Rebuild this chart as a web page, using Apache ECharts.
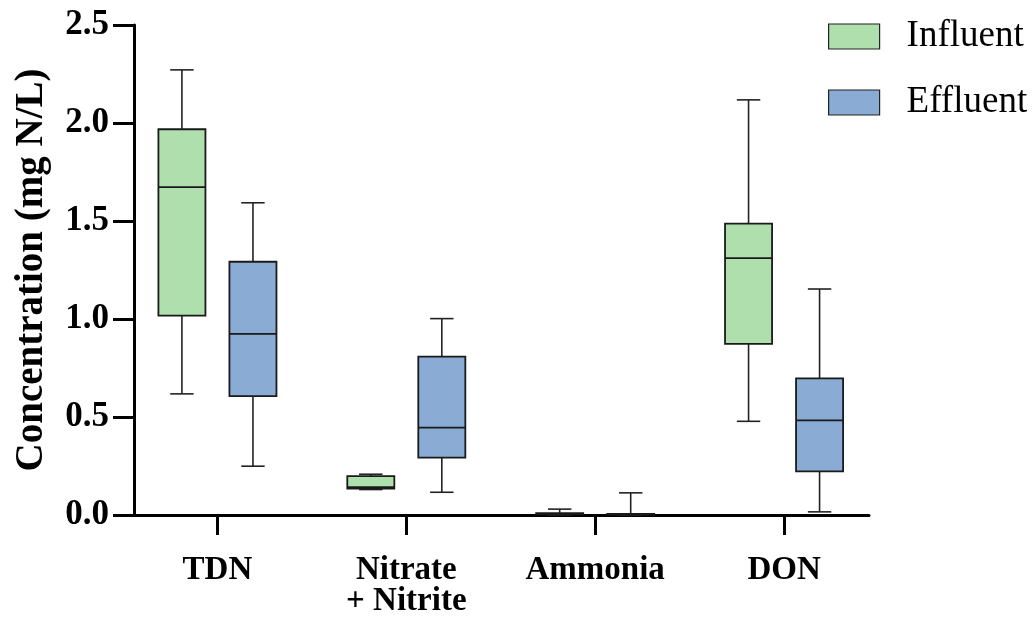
<!DOCTYPE html>
<html>
<head>
<meta charset="utf-8">
<script src="https://cdn.jsdelivr.net/npm/echarts@6/dist/echarts.min.js"></script>
<style>
html,body{margin:0;padding:0;background:#fff;}
#chart{width:1036px;height:625px;}
</style>
</head>
<body>
<div id="chart"></div>
<script>
// ---- data ----
const categories = ['TDN', 'Nitrate\n+ Nitrite', 'Ammonia', 'DON'];
const seriesNames = ['Influent', 'Effluent'];
// [min, Q1, median, Q3, max]
const influent = [
  [0.618, 1.017, 1.673, 1.968, 2.271],
  [0.130, 0.135, 0.142, 0.198, 0.208],
  [0.000, 0.003, 0.006, 0.009, 0.030],
  [0.478, 0.873, 1.311, 1.487, 2.118]
];
const effluent = [
  [0.249, 0.606, 0.924, 1.292, 1.593],
  [0.116, 0.293, 0.446, 0.808, 1.002],
  [0.000, 0.002, 0.004, 0.006, 0.113],
  [0.016, 0.223, 0.483, 0.697, 1.153]
];
const yTicks = [0, 0.5, 1.0, 1.5, 2.0, 2.5];

const colors = ['#aedfad', '#8aabd3'];
const FONT = "'Liberation Serif', 'Times New Roman', serif";

function makeRender(sign) {
  return function (params, api) {
    const cat = api.value(0);
    const band = api.size([1, 0])[0];
    const off = sign * band * 0.188;
    const bw = band * 0.249;
    const cw = band * 0.124;
    const cx = api.coord([cat, 0])[0] + off;
    const y = (v) => api.coord([cat, v])[1];
    const yMin = y(api.value(1)), yQ1 = y(api.value(2)), yMed = y(api.value(3)),
          yQ3 = y(api.value(4)), yMax = y(api.value(5));
    const fill = colors[sign < 0 ? 0 : 1];
    const lineStyle = { stroke: '#222', lineWidth: 1.6 };
    return {
      type: 'group',
      children: [
        { type: 'line', shape: { x1: cx, y1: yQ3, x2: cx, y2: yMax }, style: lineStyle },
        { type: 'line', shape: { x1: cx, y1: yQ1, x2: cx, y2: yMin }, style: lineStyle },
        { type: 'line', shape: { x1: cx - cw / 2, y1: yMax, x2: cx + cw / 2, y2: yMax }, style: lineStyle },
        { type: 'line', shape: { x1: cx - cw / 2, y1: yMin, x2: cx + cw / 2, y2: yMin }, style: lineStyle },
        { type: 'rect', shape: { x: cx - bw / 2, y: yQ3, width: bw, height: yQ1 - yQ3 },
          style: { fill: fill, stroke: '#1a1a1a', lineWidth: 1.8 } },
        { type: 'line', shape: { x1: cx - bw / 2, y1: yMed, x2: cx + bw / 2, y2: yMed },
          style: { stroke: '#1a1a1a', lineWidth: 1.8 } }
      ]
    };
  };
}

const chart = echarts.init(document.getElementById('chart'), null, { renderer: 'canvas' });

const option = {
  backgroundColor: '#fff',
  animation: false,
  textStyle: { fontFamily: FONT },
  legend: {
    orient: 'vertical',
    left: 823,
    top: 13,
    itemWidth: 51,
    itemHeight: 25,
    itemGap: 29,
    textStyle: { fontFamily: FONT, fontSize: 37, color: '#000', padding: [0, 0, 0, 22] },
    data: seriesNames.map((n, i) => ({
      name: n, icon: 'rect',
      itemStyle: { color: colors[i], borderColor: '#222', borderWidth: 1.2 }
    }))
  },
  grid: [
    { left: 123, right: 157.5, top: 25, bottom: 110 },
    { left: 134, right: 167, top: 25, bottom: 110 }
  ],
  xAxis: [
    {
      gridIndex: 0, type: 'category', data: categories,
      axisLine: { show: false },
      axisTick: { show: true, alignWithLabel: true, length: 20, lineStyle: { color: '#000', width: 3 } },
      axisLabel: { fontFamily: FONT, fontSize: 33, fontWeight: 'bold', color: '#000', margin: 40, lineHeight: 31 },
      splitLine: { show: false }
    },
    {
      gridIndex: 1, type: 'value', min: 0, max: 1,
      axisLine: { show: true, lineStyle: { color: '#000', width: 3 } },
      axisTick: { show: false }, axisLabel: { show: false }, splitLine: { show: false }
    }
  ],
  yAxis: [
    { gridIndex: 0, type: 'value', min: 0, max: 2.5, interval: 0.5, show: false },
    {
      gridIndex: 1, type: 'value', min: yTicks[0], max: yTicks[yTicks.length - 1], interval: 0.5,
      name: 'Concentration (mg N/L)',
      nameLocation: 'middle',
      nameGap: 83,
      nameTextStyle: { fontFamily: FONT, fontSize: 39, fontWeight: 'bold', color: '#000' },
      axisLine: { show: true, lineStyle: { color: '#000', width: 3 } },
      axisTick: { show: true, length: 21, lineStyle: { color: '#000', width: 3 } },
      axisLabel: { fontFamily: FONT, fontSize: 35, fontWeight: 'bold', color: '#000', margin: 25,
                   formatter: (v) => v.toFixed(1) },
      splitLine: { show: false }
    }
  ],
  series: [
    {
      name: seriesNames[0], type: 'custom', xAxisIndex: 0, yAxisIndex: 0,
      itemStyle: { color: colors[0], borderColor: '#222' },
      renderItem: makeRender(-1),
      encode: { x: 0, y: [1, 2, 3, 4, 5] },
      data: influent.map((d, i) => [i].concat(d)),
      z: 1
    },
    {
      name: seriesNames[1], type: 'custom', xAxisIndex: 0, yAxisIndex: 0,
      itemStyle: { color: colors[1], borderColor: '#222' },
      renderItem: makeRender(1),
      encode: { x: 0, y: [1, 2, 3, 4, 5] },
      data: effluent.map((d, i) => [i].concat(d)),
      z: 1
    }
  ]
};
chart.setOption(option);
</script>
</body>
</html>
